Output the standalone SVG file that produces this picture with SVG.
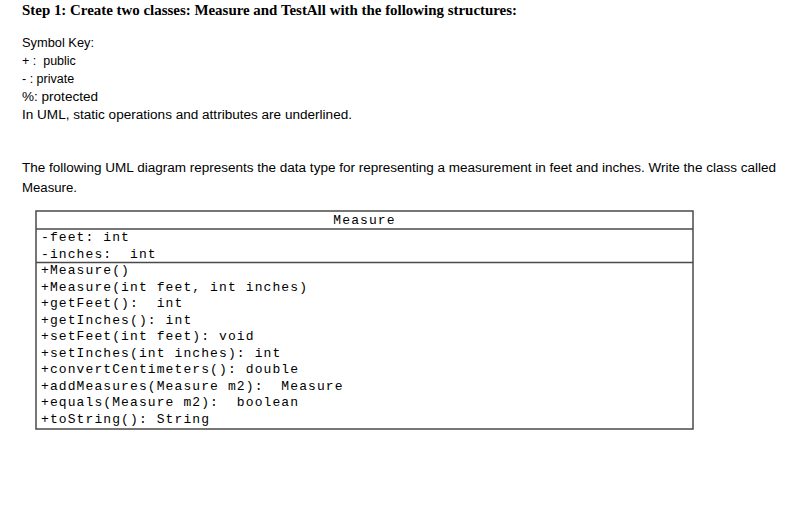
<svg xmlns="http://www.w3.org/2000/svg" width="811" height="521" viewBox="0 0 811 521">
<style>
.t{font-family:"Liberation Serif","Times New Roman",serif;font-weight:bold;font-size:14px;fill:#000}
.b{font-family:"Liberation Sans",Arial,sans-serif;font-size:12.5px;fill:#000}
.m{font-family:"Liberation Mono","Courier New",monospace;font-size:13px;letter-spacing:1.1px;fill:#000;white-space:pre}
.box{fill:#fff;stroke:#4a4a4a;stroke-width:1.5}
.div{stroke:#4a4a4a;stroke-width:1.5}
</style>
<rect width="811" height="521" fill="#fff"/>
<g id="intro">
<text class="t" x="22" y="15" textLength="495" lengthAdjust="spacingAndGlyphs">Step 1:  Create two classes: Measure and TestAll with the following structures:</text>
<text class="b" x="22" y="47" textLength="72" lengthAdjust="spacingAndGlyphs">Symbol Key:</text>
<text class="b" x="22" y="65" xml:space="preserve">+ :  public</text>
<text class="b" x="22" y="83">- : private</text>
<text class="b" x="22" y="101" textLength="76" lengthAdjust="spacingAndGlyphs">%: protected</text>
<text class="b" x="22" y="119" textLength="330" lengthAdjust="spacingAndGlyphs">In UML, static operations and attributes are underlined.</text>
<text class="b" x="22" y="172" textLength="754" lengthAdjust="spacingAndGlyphs">The following UML diagram represents the data type for representing a measurement in feet and inches.  Write the class called</text>
<text class="b" x="22" y="192" textLength="55" lengthAdjust="spacingAndGlyphs">Measure.</text>
</g>
<g id="Measure">
<rect class="box" x="36" y="211" width="657" height="218"/>
<line class="div" x1="36" y1="229" x2="693" y2="229"/>
<line class="div" x1="36" y1="262.5" x2="693" y2="262.5"/>
<text class="m" x="364.5" y="224" text-anchor="middle">Measure</text>
<text class="m" x="41" y="241">-feet: int</text>
<text class="m" x="41" y="257.5">-inches:  int</text>
<text class="m" x="41" y="274">+Measure()</text>
<text class="m" x="41" y="290.5">+Measure(int feet, int inches)</text>
<text class="m" x="41" y="307">+getFeet():  int</text>
<text class="m" x="41" y="323.5">+getInches(): int</text>
<text class="m" x="41" y="340">+setFeet(int feet): void</text>
<text class="m" x="41" y="356.5">+setInches(int inches): int</text>
<text class="m" x="41" y="373">+convertCentimeters(): double</text>
<text class="m" x="41" y="389.5">+addMeasures(Measure m2):  Measure</text>
<text class="m" x="41" y="406">+equals(Measure m2):  boolean</text>
<text class="m" x="41" y="422.5">+toString(): String</text>
</g>
<g id="connectors"/>
</svg>
